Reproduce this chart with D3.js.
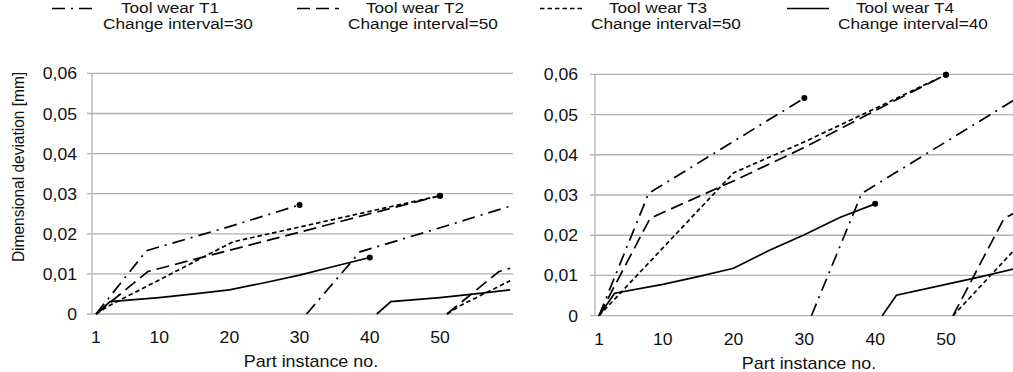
<!DOCTYPE html>
<html>
<head>
<meta charset="utf-8">
<script src="https://cdn.jsdelivr.net/npm/d3@7"></script>
<style>
  body { margin: 0; background: white; }
  text { font-family: "Liberation Sans", Arial, sans-serif; fill: #111; }
</style>
</head>
<body>
<div id="vizContainer"></div>
<script>
// ticks
let partTicks = [1, 10, 20, 30, 40, 50];
let devTicks = [0, 0.01, 0.02, 0.03, 0.04, 0.05, 0.06];

// legend texts
let toolNames = ["Tool wear T1", "Tool wear T2", "Tool wear T3", "Tool wear T4"];
let changeLabels = ["Change interval=30", "Change interval=50", "Change interval=50", "Change interval=40"];

// left chart, [part no, deviation mm]
let leftT1 = [[1, 0], [8.2, 0.0158], [20, 0.0218], [30, 0.0272]];
let leftT1next = [[31, 0], [38.6, 0.0155], [50, 0.0215], [60, 0.0269]];
let leftT2 = [[1, 0], [8.4, 0.0106], [20, 0.0159], [30, 0.0204], [40, 0.025], [50, 0.0295]];
let leftT2next = [[51, 0], [58.4, 0.0106], [60, 0.0114]];
let leftT3 = [[1, 0], [3, 0.0022], [10, 0.0085], [20.5, 0.018], [30, 0.0217], [40, 0.0256], [50, 0.0295]];
let leftT3next = [[51, 0], [53, 0.0022], [60, 0.0083]];
let leftT4 = [[1, 0], [3, 0.0031], [10, 0.0041], [15, 0.005], [20, 0.006], [25, 0.0078], [30, 0.0097], [35, 0.0119], [40, 0.0141]];
let leftT4next = [[41, 0], [43, 0.0031], [50, 0.0041], [55, 0.005], [60, 0.006]];

// right chart
let rightT1 = [[1, 0], [8, 0.0304], [30, 0.0541]];
let rightT1next = [[31, 0], [38.1, 0.0304], [60, 0.054]];
let rightT2 = [[1, 0], [8.2, 0.0242], [20, 0.0335], [30, 0.0418], [40, 0.051], [50, 0.0599]];
let rightT2next = [[51, 0], [58.2, 0.0242], [60, 0.0258]];
let rightT3 = [[1, 0], [20, 0.0355], [30, 0.0432], [40, 0.0515], [50, 0.0599]];
let rightT3next = [[51, 0], [60, 0.017]];
let rightT4 = [[1, 0], [3.2, 0.0056], [10, 0.0078], [15, 0.0097], [20, 0.0118], [25, 0.0162], [30, 0.0201], [35, 0.0244], [40, 0.0278]];
let rightT4next = [[41, 0], [43, 0.0051], [50, 0.0078], [55, 0.0097], [60, 0.0118]];

let dashes = ["13,6,2,6", "13,6", "4.5,3", null];
let gridColor = "#b2b2b2";

let viz = d3.select("#vizContainer").append("svg")
    .attr("width", 1013)
    .attr("height", 372)
    .style("display", "block")
;

// text in the picture is a bit wide, so it gets stretched horizontally
function addText(g, x, y, str, anchor, size, stretch){
  return g.append("text")
    .attr("transform", "translate(" + x + "," + y + ") scale(" + stretch + ",1)")
    .attr("text-anchor", anchor)
    .attr("font-size", size)
    .text(str);
}

function fmtDev(d){
  return d === 0 ? "0" : d.toFixed(2).replace(".", ",");
}

function drawPanel(opts){
  let g = viz.append("g").attr("class", opts.name);
  let x = d3.scaleLinear().domain([0.43, 60.4]).range([opts.left, opts.right]);
  let y = d3.scaleLinear().domain([0, 0.06]).range([opts.bottom, opts.top]);

  // gridlines
  g.selectAll(".grid").data(devTicks).enter()
    .append("line")
      .attr("class", "grid")
      .attr("x1", opts.left - 5)
      .attr("x2", opts.right)
      .attr("y1", d => y(d))
      .attr("y2", d => y(d))
      .attr("stroke", gridColor)
      .attr("stroke-width", 1.3)
  ;
  g.append("line")
    .attr("x1", opts.left).attr("x2", opts.left)
    .attr("y1", y(0.06)).attr("y2", y(0))
    .attr("stroke", gridColor)
    .attr("stroke-width", 1.3)
  ;

  // y labels
  devTicks.forEach(d => {
    addText(g, opts.left - opts.labelPad, y(d) + 6, fmtDev(d), "end", 16, 1.1);
  });
  // x labels
  partTicks.forEach(d => {
    addText(g, x(d), opts.bottom + 29, d, "middle", 16, 1.1);
  });
  addText(g, opts.titleX, opts.bottom + 53, "Part instance no.", "middle", 16, 1.12);

  let line = d3.line().x(d => x(d[0])).y(d => y(d[1]));
  opts.series.forEach((s, i) => {
    [s.first, s.next].forEach(pts => {
      g.append("path")
        .datum(pts)
        .attr("d", line)
        .attr("fill", "none")
        .attr("stroke", "#000")
        .attr("stroke-width", 1.7)
        .attr("stroke-dasharray", dashes[i])
      ;
    });
    let last = s.first[s.first.length - 1];
    g.append("circle")
      .attr("cx", x(last[0]))
      .attr("cy", y(last[1]))
      .attr("r", 3)
      .attr("fill", "#000")
    ;
  });
}

drawPanel({
  name: "left", left: 92, right: 513, top: 73.4, bottom: 314, labelPad: 15, titleX: 311,
  series: [
    {first: leftT1, next: leftT1next},
    {first: leftT2, next: leftT2next},
    {first: leftT3, next: leftT3next},
    {first: leftT4, next: leftT4next}
  ]
});
drawPanel({
  name: "right", left: 595, right: 1019.6, top: 74.3, bottom: 315.7, labelPad: 17, titleX: 809,
  series: [
    {first: rightT1, next: rightT1next},
    {first: rightT2, next: rightT2next},
    {first: rightT3, next: rightT3next},
    {first: rightT4, next: rightT4next}
  ]
});

// y title
viz.append("text")
  .attr("transform", "translate(24,167) rotate(-90) scale(1,1.1)")
  .attr("text-anchor", "middle")
  .attr("font-size", 15.5)
  .text("Dimensional deviation [mm]")
;

// legend
let legendX = [52, 297, 540, 787];
let legend = viz.append("g").attr("class", "legend");
toolNames.forEach((name, i) => {
  legend.append("line")
    .attr("x1", legendX[i]).attr("x2", legendX[i] + 42)
    .attr("y1", 8.5).attr("y2", 8.5)
    .attr("stroke", "#000")
    .attr("stroke-width", 1.7)
    .attr("stroke-dasharray", dashes[i])
  ;
  addText(legend, legendX[i] + 118, 13, name, "middle", 14, 1.23);
  addText(legend, legendX[i] + 126, 28.6, changeLabels[i], "middle", 14, 1.23);
});
</script>
</body>
</html>
